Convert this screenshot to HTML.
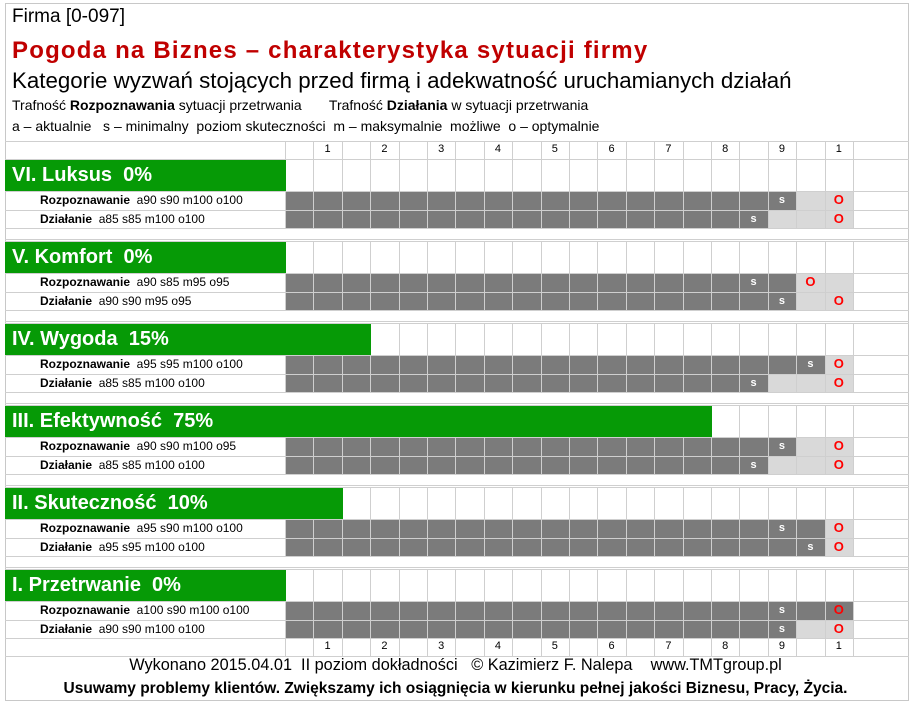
<!DOCTYPE html>
<html><head><meta charset="utf-8">
<style>
body{margin:0;width:911px;height:704px;background:#fff;position:relative;overflow:hidden;font-family:"Liberation Sans","DejaVu Sans",sans-serif;}
.a{position:absolute;box-sizing:border-box;}
.t{position:absolute;white-space:nowrap;}
</style></head>
<body>
<div class="a" style="left:5px;top:3px;width:904px;height:698px;border:1px solid #c8c8c8;"></div>
<div class="t" style="left:12px;top:6px;font-size:19px;color:#000;">Firma [0-097]</div>
<div class="t" style="left:12px;top:37px;font-size:24px;letter-spacing:1.2px;font-weight:bold;color:#c00000;">Pogoda na Biznes – charakterystyka sytuacji firmy</div>
<div class="t" style="left:12px;top:68px;font-size:22.3px;color:#000;">Kategorie wyzwań stojących przed firmą i adekwatność uruchamianych działań</div>
<div class="t" style="left:12px;top:97px;font-size:14px;">Trafność <b>Rozpoznawania</b> sytuacji przetrwania &nbsp;&nbsp;&nbsp;&nbsp;&nbsp;&nbsp;Trafność <b>Działania</b> w sytuacji przetrwania</div>
<div class="t" style="left:12px;top:118px;font-size:14px;">a – aktualnie &nbsp;&nbsp;s – minimalny &nbsp;poziom skuteczności &nbsp;m – maksymalnie &nbsp;możliwe &nbsp;o – optymalnie</div>
<div id="grid"></div>
<div class="t" style="left:0;width:911px;text-align:center;top:656px;font-size:16.3px;">Wykonano 2015.04.01 &nbsp;II poziom dokładności &nbsp;&nbsp;© Kazimierz F. Nalepa &nbsp;&nbsp;&nbsp;www.TMTgroup.pl</div>
<div class="t" style="left:0;width:911px;text-align:center;top:680px;font-size:15.5px;font-weight:bold;">Usuwamy problemy klientów. Zwiększamy ich osiągnięcia w kierunku pełnej jakości Biznesu, Pracy, Życia.</div>
<script>
const categories=["VI. Luksus","V. Komfort","IV. Wygoda","III. Efektywność","II. Skuteczność","I.  Przetrwanie"];
const categoryPct=[0,0,15,75,10,0];
const rozLabels=["a90  s90 m100 o100","a90  s85 m95 o95","a95  s95 m100 o100","a90  s90 m100 o95","a95  s90 m100 o100","a100  s90 m100 o100"];
const dzLabels=["a85  s85  m100  o100","a90  s90  m95  o95","a85  s85  m100  o100","a85  s85  m100  o100","a95  s95  m100  o100","a90  s90  m100  o100"];
const rozA=[90,90,95,90,95,100];
const rozS=[90,85,95,90,90,90];
const rozM=[100,100,100,100,100,100];
const rozO=[100,95,100,100,100,100];
const dzA=[85,90,85,85,95,90];
const dzS=[85,90,85,85,95,90];
const dzM=[100,100,100,100,100,100];
const dzO=[100,100,100,100,100,100];
const tickLabels=["1","2","3","4","5","6","7","8","9","1"];

const G=document.getElementById('grid');
const X0=285,CW=28.4,NC=20;
const x=p=>X0+p/5*CW;
const col=p=>Math.ceil(p/5)-1;
function box(l,t,w,h,st){const d=document.createElement('div');d.className='a';d.style.cssText=`left:${l}px;top:${t}px;width:${w}px;height:${h}px;`+st;G.appendChild(d);return d;}
function txt(l,t,s,st){const d=document.createElement('div');d.className='t';d.style.cssText=`left:${l}px;top:${t}px;`+st;d.innerHTML=s;G.appendChild(d);return d;}
function hline(y){const d=box(5,y,904,1,'background:#cfcfcf;');}
function vlines(y,h){for(let c=0;c<=NC;c++){const d=box(X0+c*CW,y,1,h,'background:#cfcfcf;');}}
function tickRow(y){
  hline(y);vlines(y,18);
  tickLabels.forEach((t,i)=>{const d=txt(X0+(2*i+1)*CW,y+2,t,`width:${CW}px;text-align:center;font-size:11px;`);
    
    });
}
tickRow(141);
function barRow(y,h,a,s,m,o,lbl,name,nm){
  hline(y);
  const L=txt(40,y+2,`<b>${name}</b>&nbsp; ${lbl}`,'font-size:12px;');
  
  
  vlines(y,h);
  const ac=col(a),mc=col(m),sc=col(s),oc=col(o);
  for(let c=0;c<NC;c++){
    let bg=null;
    if(c<=ac)bg='#7b7b7b';else if(c<=mc)bg='#d9d9d9';
    if(!bg)continue;
    const d=box(X0+c*CW+1,y+1,CW-1,h-1,`background:${bg};`);
    
    
  }
  const sd=txt(X0+sc*CW,y+3,'s',`width:${CW}px;text-align:center;font-size:11px;font-weight:bold;color:#fff;`);
  
  
  const od=txt(X0+oc*CW,y+1,'O',`width:${CW}px;text-align:center;font-size:13px;font-weight:bold;color:#ff0000;`);
  
  
}
categories.forEach((cat,k)=>{
  const T=159+82*k;
  hline(T);vlines(T,32);
  const gb=box(5,T+1,x(categoryPct[k])-5+1,31,'background:#069a06;');
  
  
  const gl=txt(12,T+5,`${cat}&nbsp; ${categoryPct[k]}%`,'font-size:20px;font-weight:bold;color:#fff;');
  
  
  barRow(T+32,19,rozA[k],rozS[k],rozM[k],rozO[k],rozLabels[k],'Rozpoznawanie','rozpoznawanie');
  barRow(T+51,18,dzA[k],dzS[k],dzM[k],dzO[k],dzLabels[k],'Działanie','dzialanie');
  hline(T+69);
  if(k<5)hline(T+80);
});
tickRow(638);hline(656);
</script>
</body></html>
